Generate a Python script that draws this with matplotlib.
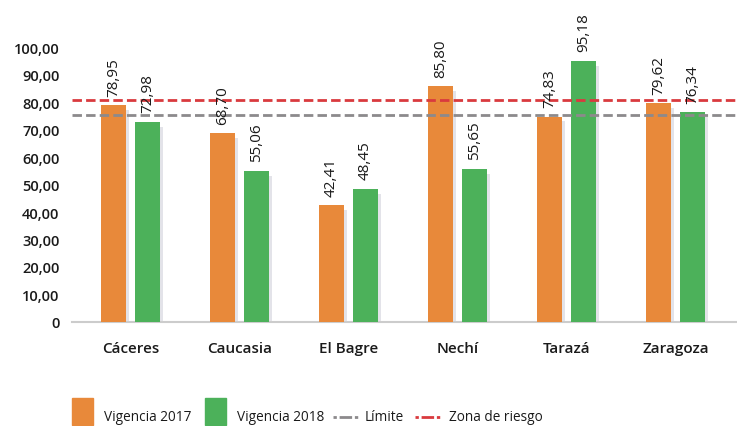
import numpy as np
import matplotlib
matplotlib.use('Agg')
import matplotlib.pyplot as plt
from matplotlib.patches import Rectangle
from matplotlib.lines import Line2D

plt.rcParams['font.family'] = ['Open Sans', 'DejaVu Sans']

# data
municipios = ['Cáceres', 'Caucasia', 'El Bagre', 'Nechí', 'Tarazá', 'Zaragoza']
vig_2017 = [78.95, 68.70, 42.41, 85.80, 74.83, 79.62]
vig_2018 = [72.98, 55.06, 48.45, 55.65, 95.18, 76.34]
limite = 75.5
zona_riesgo = 80.8
series_names = ['Vigencia 2017', 'Vigencia 2018', 'Límite', 'Zona de riesgo']
yticks = [0, 10, 20, 30, 40, 50, 60, 70, 80, 90, 100]

c_orange = '#e8893a'
c_green = '#4cb15a'
c_gray = '#8c8a8c'
c_red = '#d93a3e'
c_shadow = '#e3e3e9'
c_text = '#1a1a1a'

W, H = 737, 427
fig = plt.figure(figsize=(W / 100, H / 100), dpi=100)
ax = fig.add_axes([72 / W, 1 - 322.7 / H, (W - 72) / W, (322.7 - 34.8) / H])

x = np.arange(len(municipios))
bw = 0.229
off = 0.156
sx = 0.025   # shadow shift
sy = 1.8     # shadow drop

# shadows
ax.bar(x - off + sx, np.array(vig_2017) - sy, bw, color=c_shadow, zorder=2)
ax.bar(x + off + sx, np.array(vig_2018) - sy, bw, color=c_shadow, zorder=2)
b1 = ax.bar(x - off, vig_2017, bw, color=c_orange, zorder=3)
b2 = ax.bar(x + off, vig_2018, bw, color=c_green, zorder=3)

def fmt(v):
    return ('%.2f' % v).replace('.', ',')

for bars, vals in [(b1, vig_2017), (b2, vig_2018)]:
    for r, v in zip(bars, vals):
        ax.annotate(fmt(v), (r.get_x() + r.get_width() / 2, v), xytext=(0, 7),
                    textcoords='offset points', rotation=90, ha='center', va='bottom',
                    fontsize=11, color=c_text, zorder=5)

ax.axhline(limite, color=c_gray, lw=2, dashes=(3.4, 1.5), zorder=4)
ax.axhline(zona_riesgo, color=c_red, lw=2, dashes=(3.4, 1.5), zorder=4)

ax.set_xlim(-0.537, (W - 130.5) / 109)
ax.set_ylim(0, 105)
ax.set_yticks(yticks)
ax.set_yticklabels(['0'] + [fmt(t) for t in yticks[1:]], fontsize=10.5, fontweight='semibold', color=c_text)
ax.set_xticks(x)
ax.set_xticklabels(municipios, fontsize=11, fontweight='semibold', color=c_text)
ax.tick_params(axis='y', length=0, pad=9)
ax.tick_params(axis='x', length=0, pad=14)
for s in ['top', 'right', 'left']:
    ax.spines[s].set_visible(False)
ax.spines['bottom'].set_color('#cccccc')
ax.spines['bottom'].set_linewidth(1.5)

# legend drawn by hand
def fx(px):
    return px / W

def fy(py):
    return 1 - py / H

handles = [('patch', c_orange, 72, 104), ('patch', c_green, 205, 237),
           ('line', c_gray, 333, 365), ('line', c_red, 415, 449)]
for (kind, col, hx, tx), name in zip(handles, series_names):
    if kind == 'patch':
        fig.patches.append(Rectangle((fx(hx), fy(426)), fx(21), 27 / H, color=col,
                                     transform=fig.transFigure))
    else:
        fig.lines.append(Line2D([fx(hx), fx(hx + 27)], [fy(418), fy(418)], color=col,
                                lw=2, dashes=(1.2, 1.0, 4.5, 1.0, 1.2), transform=fig.transFigure))
    fig.text(fx(tx), fy(418), name, fontsize=9.8, va='center', ha='left', color=c_text)

fig.savefig('out.png', dpi=100)
